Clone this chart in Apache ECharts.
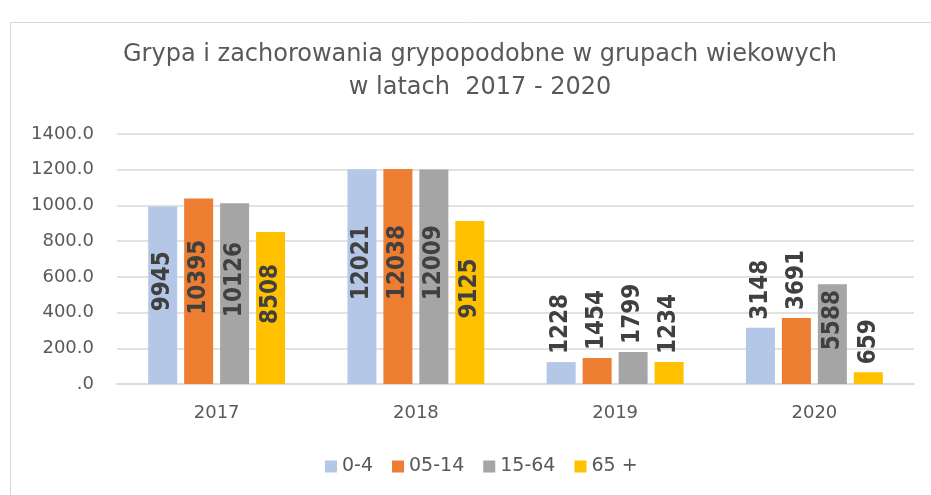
<!DOCTYPE html>
<html>
<head>
<meta charset="utf-8">
<script src="https://cdn.jsdelivr.net/npm/echarts@6/dist/echarts.min.js"></script>
<style>
  html, body { margin: 0; padding: 0; background: #fff; }
  #chart { width: 931px; height: 495px; }
</style>
</head>
<body>
<div id="chart"></div>
<script>
// lata i grupy wiekowe
var years = ["2017", "2018", "2019", "2020"];
var groups = ["0-4", "05-14", "15-64", "65 +"];
var colors = ["#B4C7E7", "#ED7D31", "#A5A5A5", "#FFC000"];

// liczba zachorowań (etykiety), słupki rysowane w skali /10
var cases0_4 = [9945, 12021, 1228, 3148];
var cases5_14 = [10395, 12038, 1454, 3691];
var cases15_64 = [10126, 12009, 1799, 5588];
var cases65 = [8508, 9125, 1234, 659];

var yTicks = [0, 200, 400, 600, 800, 1000, 1200, 1400];

var textColor = "#595959";
var font = "DejaVu Sans";

function makeSeries(name, counts, color) {
  return {
    name: name,
    type: "bar",
    barWidth: 29,
    barGap: "24%",
    itemStyle: { color: color },
    data: counts.map(function (c) {
      var v = c / 10;
      var inside = v >= 500;
      return {
        value: v,
        label: inside
          ? { position: "inside", align: "center", verticalAlign: "middle", offset: [14, 0] }
          : { position: "top", align: "left", verticalAlign: "middle", distance: 8 }
      };
    }),
    label: {
      show: true,
      rotate: 90,
      color: "#404040",
      fontFamily: "Liberation Sans Narrow, DejaVu Sans Condensed, sans-serif",
      fontWeight: "bold",
      fontSize: 24,
      formatter: function (p) {
        return String(Math.round(p.value * 10));
      }
    }
  };
}

var chart = echarts.init(document.getElementById("chart"));
chart.setOption({
  animation: false,
  textStyle: { fontFamily: font },
  graphic: [{
    type: "rect",
    shape: { x: 10.5, y: 22.5, width: 1000, height: 1000 },
    style: { fill: "none", stroke: "#d9d9d9", lineWidth: 1 },
    silent: true
  }],
  title: {
    text: "Grypa i zachorowania grypopodobne w grupach wiekowych\nw latach  2017 - 2020",
    left: 475,
    top: 33,
    textAlign: "center",
    textStyle: {
      fontFamily: font,
      fontSize: 24,
      fontWeight: "normal",
      color: textColor,
      lineHeight: 33
    }
  },
  legend: {
    data: groups,
    bottom: 14,
    left: 320,
    icon: "rect",
    itemWidth: 12,
    itemHeight: 12,
    itemGap: 19,
    textStyle: { fontFamily: font, fontSize: 19, color: textColor }
  },
  grid: { left: 117, right: 17, top: 134, bottom: 111 },
  xAxis: {
    type: "category",
    data: years,
    axisTick: { show: false },
    axisLine: { lineStyle: { color: "#d9d9d9", width: 1.5 } },
    axisLabel: { fontFamily: font, fontSize: 18, color: textColor, margin: 20 }
  },
  yAxis: {
    type: "value",
    min: yTicks[0],
    max: yTicks[yTicks.length - 1],
    interval: yTicks[1] - yTicks[0],
    axisLine: { show: false },
    axisTick: { show: false },
    splitLine: { lineStyle: { color: "#d9d9d9", width: 1.5 } },
    axisLabel: {
      fontFamily: font,
      fontSize: 18,
      color: textColor,
      margin: 23,
      formatter: function (v) {
        return v === 0 ? ".0" : v.toFixed(1);
      }
    }
  },
  series: [
    makeSeries(groups[0], cases0_4, colors[0]),
    makeSeries(groups[1], cases5_14, colors[1]),
    makeSeries(groups[2], cases15_64, colors[2]),
    makeSeries(groups[3], cases65, colors[3])
  ]
});
</script>
</body>
</html>
